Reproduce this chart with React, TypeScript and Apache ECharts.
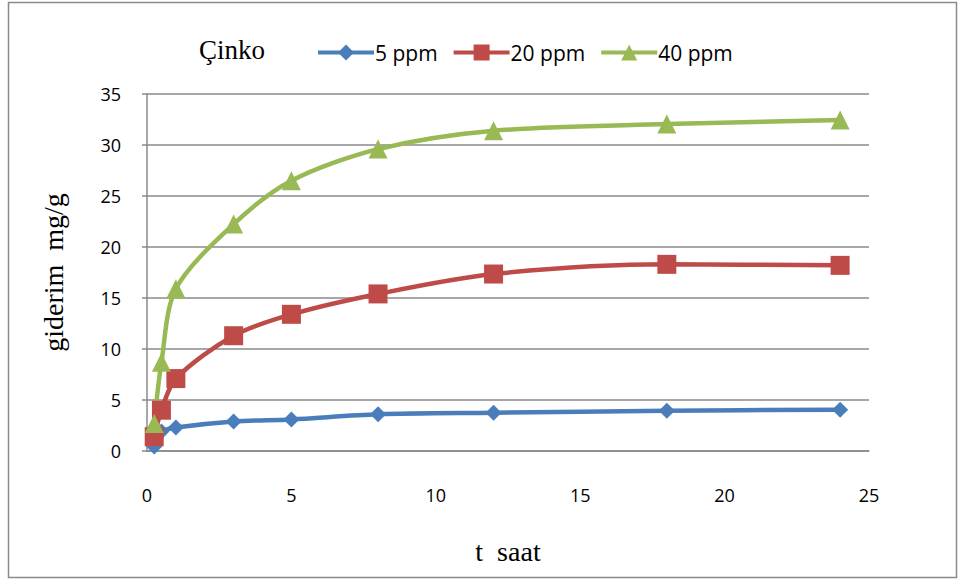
import React, { useEffect, useRef } from "react";
import * as echarts from "echarts";

const times = [0.25, 0.5, 1, 3, 5, 8, 12, 18, 24];
const ppm5 = [0.45, 1.9, 2.3, 2.9, 3.1, 3.6, 3.75, 3.95, 4.05];
const ppm20 = [1.4, 4.0, 7.1, 11.3, 13.4, 15.4, 17.35, 18.3, 18.2];
const ppm40 = [2.7, 8.7, 15.9, 22.25, 26.5, 29.6, 31.4, 32.05, 32.45];
const seriesNames = ["5 ppm", "20 ppm", "40 ppm"];
const titleText = "Çinko";
const xTitle = "t  saat";
const yTitle = "giderim  mg/g";

const pair = (ys: number[]) => times.map((t, i) => [t, ys[i]]);

export default function App() {
  const ref = useRef<HTMLDivElement>(null);
  useEffect(() => {
    if (!ref.current) return;
    const chart = echarts.init(ref.current, null, { renderer: "svg" });
    const sans = "'Open Sans', 'Liberation Sans', sans-serif";
    const serif = "'Liberation Serif', 'DejaVu Serif', serif";
    const mk = (name: string, data: number[], color: string, symbol: string, size: number) => ({
      name,
      type: "line",
      data: pair(data),
      smooth: 0.3,
      symbol,
      symbolSize: size,
      lineStyle: { color, width: 4.5 },
      itemStyle: { color },
      z: 3,
    });
    chart.setOption({
      animation: false,
      backgroundColor: "#ffffff",
      graphic: [
        {
          type: "rect",
          shape: { x: 8.5, y: 2.5, width: 948, height: 575 },
          style: { fill: "none", stroke: "#8a8a8a", lineWidth: 1.5 },
          silent: true,
        },
        {
          type: "text",
          x: 199,
          y: 50,
          style: {
            text: titleText,
            fontFamily: serif,
            fontSize: 27,
            fill: "#000",
            verticalAlign: "middle",
            align: "left",
          },
          silent: true,
        },
      ],
      legend: {
        data: seriesNames,
        left: 311,
        top: 37,
        itemWidth: 56,
        itemHeight: 20,
        itemGap: 14,
        lineStyle: { width: 4 },
        textStyle: { fontFamily: sans, fontSize: 21, color: "#000", padding: [0, 0, 0, -4] },
      },
      grid: { left: 147, top: 94, width: 722, height: 357 },
      xAxis: {
        type: "value",
        min: 0,
        max: 25,
        interval: 5,
        name: xTitle,
        nameLocation: "middle",
        nameGap: 86,
        nameTextStyle: { fontFamily: serif, fontSize: 28, color: "#000" },
        axisLine: { show: true, onZero: false, lineStyle: { color: "#8a8a8a", width: 1.5 } },
        axisTick: { show: false },
        axisLabel: { fontFamily: sans, fontSize: 18, color: "#000", margin: 35 },
        splitLine: { show: false },
      },
      yAxis: {
        type: "value",
        min: 0,
        max: 35,
        interval: 5,
        name: yTitle,
        nameLocation: "middle",
        nameGap: 80,
        nameTextStyle: { fontFamily: serif, fontSize: 28, color: "#000" },
        axisLine: { show: true, lineStyle: { color: "#8a8a8a", width: 1.5 } },
        axisTick: { show: true, length: 5, lineStyle: { color: "#8a8a8a", width: 1.5 } },
        axisLabel: { fontFamily: sans, fontSize: 18, color: "#000", margin: 26 },
        splitLine: { show: true, lineStyle: { color: "#8a8a8a", width: 1.5 } },
      },
      series: [
        mk(seriesNames[0], ppm5, "#4A7EBB", "diamond", 16),
        mk(seriesNames[1], ppm20, "#BE4B48", "rect", 19),
        mk(seriesNames[2], ppm40, "#98B954", "triangle", 19),
      ],
    });
    return () => chart.dispose();
  }, []);
  return (
    <div
      ref={ref}
      style={{ position: "fixed", left: 0, top: 0, width: 959, height: 581 }}
    />
  );
}
